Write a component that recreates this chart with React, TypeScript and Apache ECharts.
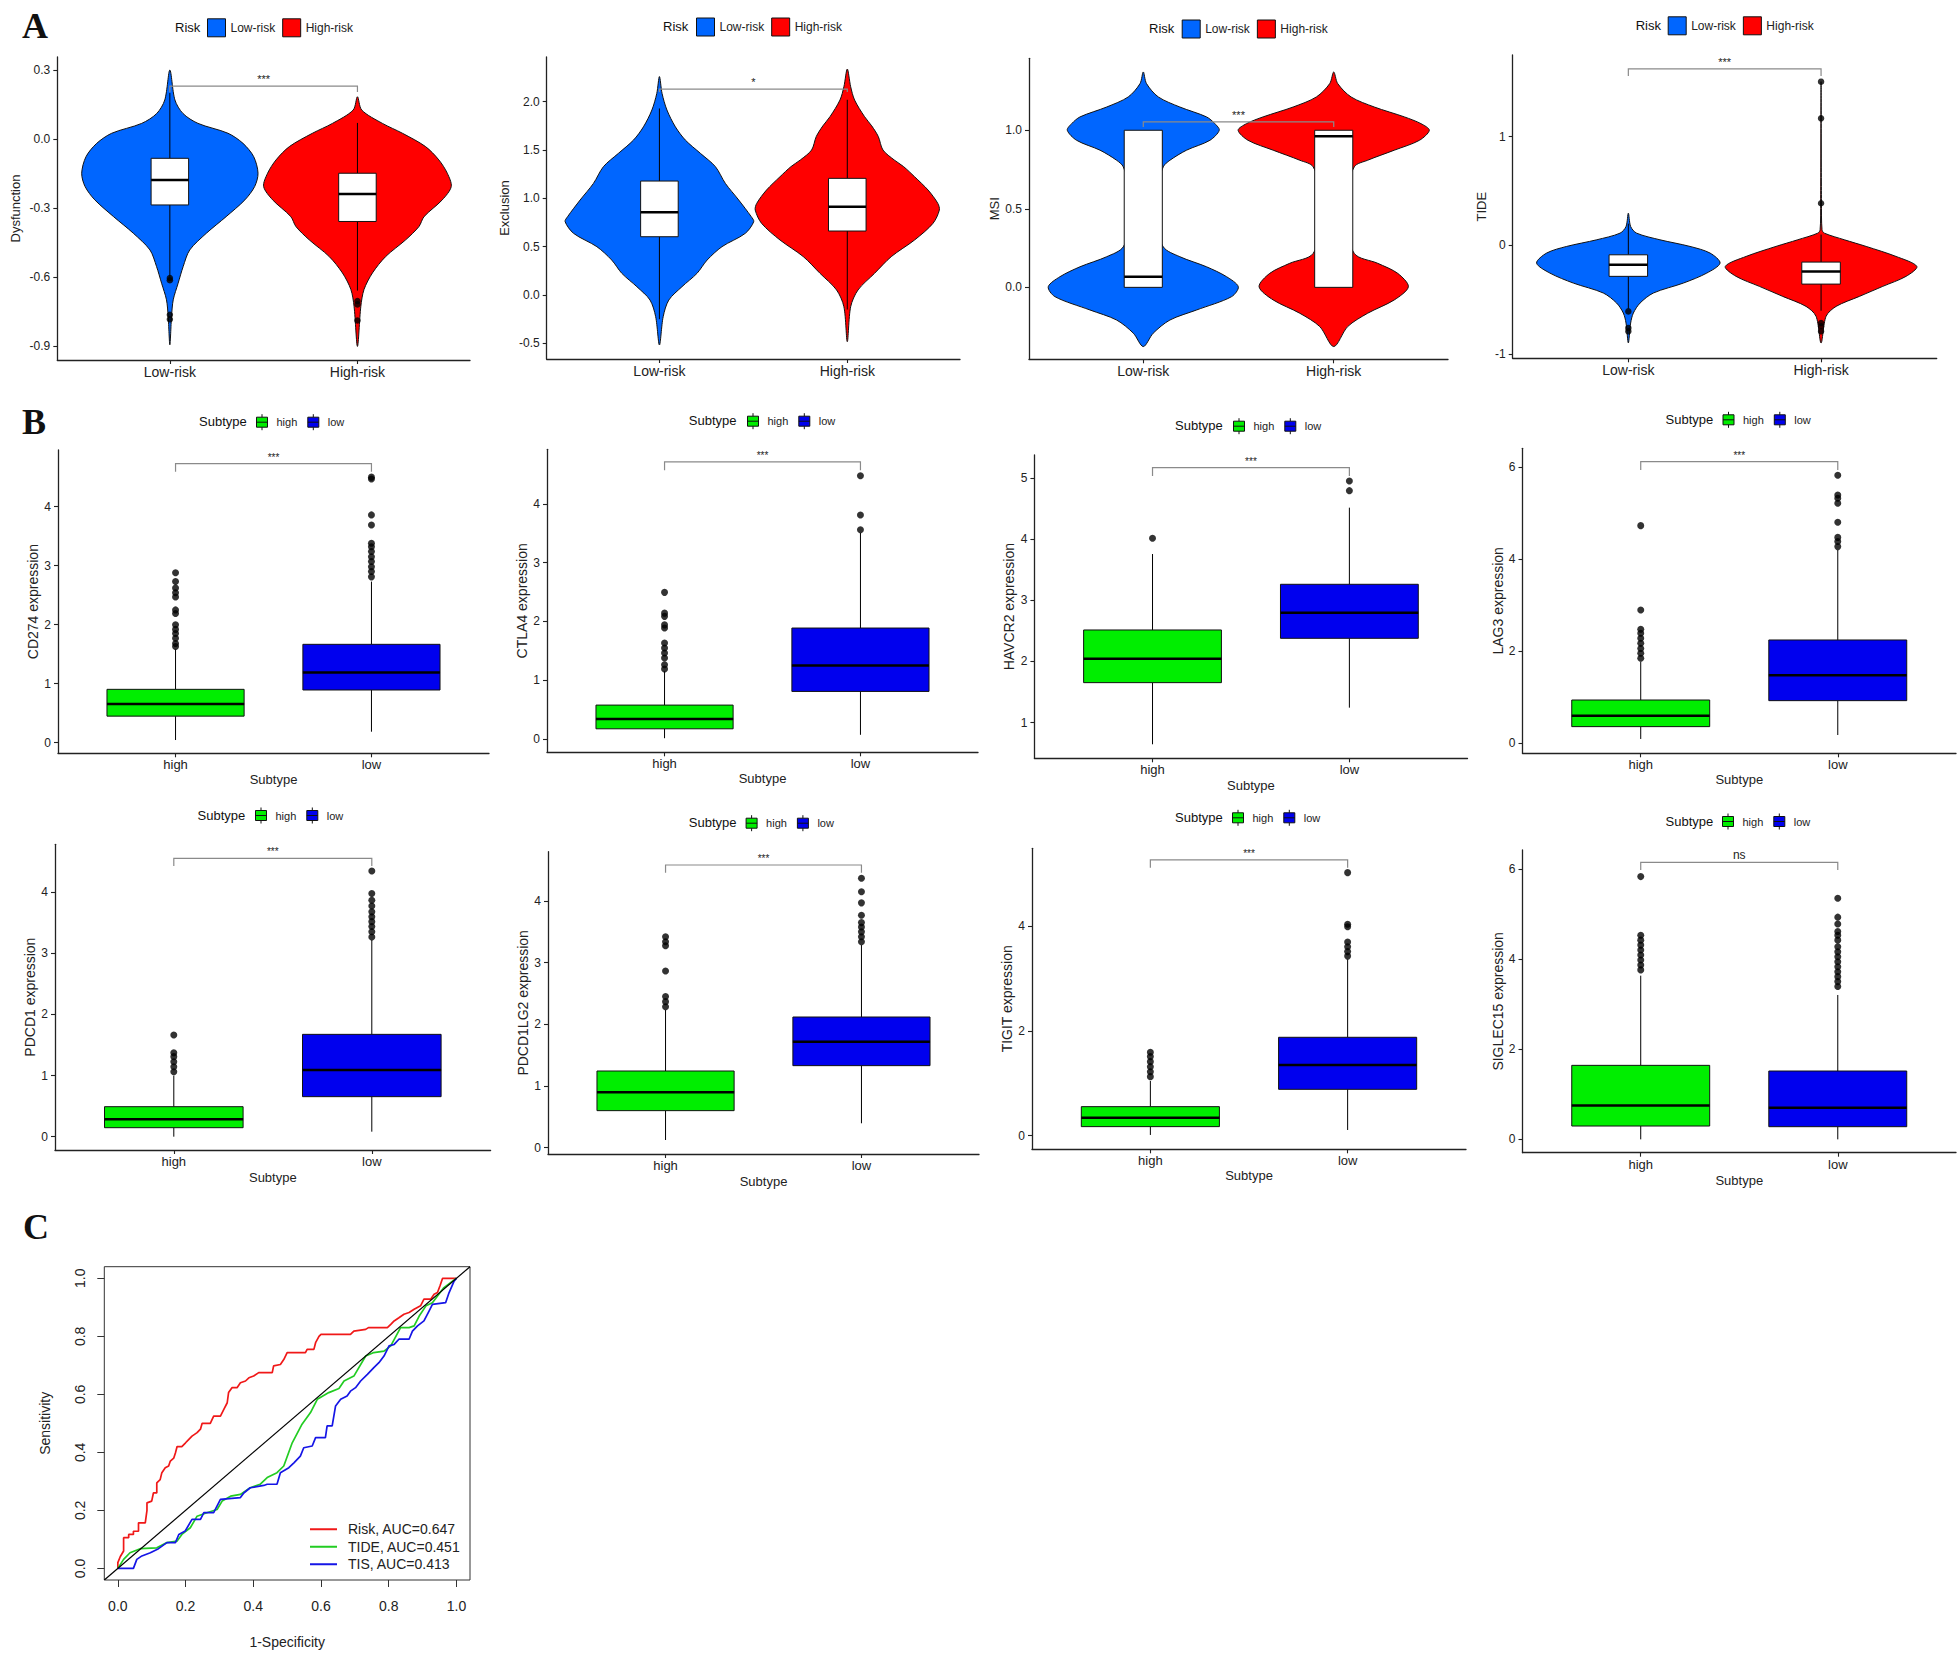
import React, { useEffect, useRef } from 'react';
import * as echarts from 'echarts';

const FONT = '"Liberation Sans", Arial, Helvetica, sans-serif';
const SERIF = '"Liberation Serif", "Times New Roman", serif';

// ---------------- Panel A : violin plots ----------------
const riskGroups = ['Low-risk', 'High-risk'];
const riskColors = ['#0066FF', '#FF0000'];

const aNames = ['Dysfunction', 'Exclusion', 'MSI', 'TIDE'];
const dysTicks = [-0.9, -0.6, -0.3, 0, 0.3];
const excTicks = [-0.5, 0, 0.5, 1, 1.5, 2];
const msiTicks = [0, 0.5, 1];
const tideTicks = [-1, 0, 1];

// violin profiles: [value, half width in category units]
const dysLowViolin = [[-0.896, 0], [-0.772, 0.009], [-0.7, 0.018], [-0.628, 0.044], [-0.555, 0.071], [-0.483, 0.106], [-0.41, 0.195], [-0.338, 0.3], [-0.265, 0.4], [-0.207, 0.452], [-0.149, 0.47], [-0.077, 0.447], [-0.019, 0.39], [0.025, 0.31], [0.068, 0.15], [0.111, 0.07], [0.17, 0.027], [0.3, 0]];
const dysHighViolin = [[-0.903, 0], [-0.729, 0.018], [-0.655, 0.035], [-0.583, 0.08], [-0.512, 0.15], [-0.439, 0.257], [-0.381, 0.328], [-0.338, 0.355], [-0.265, 0.452], [-0.207, 0.5], [-0.149, 0.479], [-0.091, 0.434], [-0.033, 0.363], [0.025, 0.24], [0.068, 0.133], [0.126, 0.023], [0.184, 0]];
const excLowViolin = [[-0.517, 0], [-0.224, 0.02], [-0.052, 0.05], [0.086, 0.12], [0.224, 0.2], [0.362, 0.254], [0.5, 0.333], [0.638, 0.457], [0.759, 0.502], [0.81, 0.489], [0.983, 0.422], [1.155, 0.351], [1.328, 0.298], [1.466, 0.218], [1.603, 0.138], [1.74, 0.085], [1.914, 0.04], [2.086, 0.014], [2.26, 0]];
const excHighViolin = [[-0.483, 0], [-0.121, 0.018], [0.052, 0.057], [0.224, 0.145], [0.397, 0.234], [0.569, 0.358], [0.741, 0.456], [0.879, 0.49], [0.948, 0.482], [1.086, 0.43], [1.224, 0.358], [1.328, 0.3], [1.397, 0.25], [1.5, 0.19], [1.64, 0.165], [1.75, 0.13], [1.845, 0.092], [2.017, 0.039], [2.155, 0.018], [2.338, 0]];
const msiLowViolin = [[-0.377, 0], [-0.292, 0.052], [-0.208, 0.14], [-0.144, 0.28], [-0.059, 0.464], [0.004, 0.499], [0.068, 0.437], [0.131, 0.332], [0.195, 0.192], [0.258, 0.105], [0.5, 0.04], [0.767, 0.105], [0.809, 0.14], [0.873, 0.227], [0.936, 0.35], [1.0, 0.399], [1.042, 0.376], [1.085, 0.332], [1.148, 0.192], [1.212, 0.079], [1.297, 0.017], [1.371, 0]];
const msiHighViolin = [[-0.377, 0], [-0.25, 0.073], [-0.165, 0.178], [-0.08, 0.318], [0.004, 0.392], [0.089, 0.336], [0.153, 0.231], [0.216, 0.108], [0.5, 0.04], [0.767, 0.108], [0.809, 0.178], [0.873, 0.318], [0.936, 0.45], [1.0, 0.502], [1.042, 0.458], [1.085, 0.371], [1.148, 0.213], [1.212, 0.091], [1.297, 0.021], [1.371, 0]];
const tideLowViolin = [[-0.896, 0], [-0.713, 0.012], [-0.621, 0.026], [-0.529, 0.061], [-0.437, 0.13], [-0.346, 0.285], [-0.254, 0.407], [-0.162, 0.476], [-0.07, 0.424], [-0.009, 0.32], [0.052, 0.164], [0.113, 0.043], [0.174, 0.012], [0.297, 0]];
const tideHighViolin = [[-0.896, 0], [-0.651, 0.026], [-0.56, 0.078], [-0.468, 0.199], [-0.376, 0.32], [-0.284, 0.441], [-0.193, 0.497], [-0.101, 0.389], [-0.009, 0.234], [0.052, 0.121], [0.113, 0.017], [0.144, 0.005], [0.4, 0.002], [1.505, 0]];

// boxes: [lower whisker, Q1, median, Q3, upper whisker] for Low-risk, High-risk
const dysBoxes = [[-0.6, -0.287, -0.178, -0.084, 0.2], [-0.66, -0.359, -0.239, -0.149, 0.07]];
const excBoxes = [[-0.25, 0.603, 0.855, 1.179, 1.93], [-0.15, 0.662, 0.914, 1.207, 2.02]];
const msiBoxes = [[0, 0, 0.068, 1, 1], [0, 0, 0.962, 1, 1]];
const tideBoxes = [[-0.58, -0.284, -0.177, -0.086, 0.2], [-0.6, -0.355, -0.239, -0.153, 0.1]];

// outliers: [group (1 = Low-risk, 2 = High-risk), value]
const dysOutliers = [[1, -0.605], [1, -0.615], [1, -0.765], [1, -0.785], [2, -0.705], [2, -0.72], [2, -0.79]];
const excOutliers: number[][] = [];
const msiOutliers: number[][] = [];
const tideOutliers = [[1, -0.606], [1, -0.758], [1, -0.789], [2, 0.388], [2, 1.168], [2, 1.505], [2, -0.713], [2, -0.743], [2, -0.789]];

// significance brackets: [from group, to group, bracket value, tip end value]
const dysSig = [1, 2, 0.23, 0.205];
const excSig = [1, 2, 2.13, 2.1];
const msiSig = [1, 2, 1.053, 1.02];
const tideSig = [1, 2, 1.622, 1.558];
const aSigLabels = ['***', '*', '***', '***'];

// ---------------- Panel B : box plots ----------------
const subtypeGroups = ['high', 'low'];
const subtypeColors = ['#00EE00', '#0000EE'];
const bGenes = ['CD274', 'CTLA4', 'HAVCR2', 'LAG3', 'PDCD1', 'PDCD1LG2', 'TIGIT', 'SIGLEC15'];

const cd274Boxes = [[0.045, 0.45, 0.655, 0.904, 1.58], [0.186, 0.893, 1.19, 1.667, 2.73]];
const ctla4Boxes = [[0.01, 0.17, 0.335, 0.574, 1.15], [0.068, 0.807, 1.25, 1.886, 3.506]];
const havcr2Boxes = [[0.646, 1.654, 2.046, 2.515, 3.757], [1.245, 2.379, 2.798, 3.262, 4.515]];
const lag3Boxes = [[0.094, 0.362, 0.6, 0.94, 1.773], [0.18, 0.926, 1.476, 2.243, 4.197]];
const pdcd1Boxes = [[0, 0.147, 0.284, 0.491, 1.0], [0.082, 0.655, 1.091, 1.675, 3.22]];
const pdcd1lg2Boxes = [[0.124, 0.6, 0.897, 1.243, 2.232], [0.395, 1.33, 1.719, 2.119, 3.286]];
const tigitBoxes = [[0.013, 0.172, 0.344, 0.554, 1.045], [0.108, 0.885, 1.35, 1.879, 3.369]];
const siglec15Boxes = [[0, 0.296, 0.754, 1.642, 3.632], [0, 0.281, 0.703, 1.516, 3.203]];

// outliers per gene: [high group values, low group values]
const cd274Out = [[1.63, 1.68, 1.77, 1.85, 1.92, 2.0, 2.19, 2.25, 2.47, 2.54, 2.62, 2.73, 2.88], [2.81, 2.9, 2.98, 3.07, 3.15, 3.24, 3.32, 3.38, 3.69, 3.86, 4.47, 4.5]];
const ctla4Out = [[1.19, 1.26, 1.375, 1.46, 1.545, 1.63, 1.886, 1.94, 2.085, 2.14, 2.494], [3.56, 3.81, 4.48]];
const havcr2Out = [[4.014], [4.793, 4.951]];
const lag3Out = [[1.845, 1.954, 2.06, 2.17, 2.28, 2.39, 2.475, 2.894, 4.725], [4.27, 4.38, 4.47, 4.8, 5.21, 5.32, 5.39, 5.82]];
const pdcd1Out = [[1.064, 1.146, 1.228, 1.31, 1.375, 1.664], [3.27, 3.356, 3.44, 3.52, 3.6, 3.68, 3.776, 3.87, 3.98, 4.35]];
const pdcd1lg2Out = [[2.286, 2.368, 2.45, 2.865, 3.276, 3.34, 3.42], [3.34, 3.42, 3.5, 3.58, 3.65, 3.77, 3.97, 4.15, 4.37]];
const tigitOut = [[1.127, 1.22, 1.318, 1.414, 1.51, 1.592], [3.43, 3.516, 3.61, 3.7, 3.99, 4.04, 5.025]];
const siglec15Out = [[3.76, 3.87, 3.98, 4.09, 4.2, 4.31, 4.42, 4.53, 5.83], [3.39, 3.5, 3.61, 3.72, 3.83, 3.94, 4.05, 4.16, 4.275, 4.42, 4.53, 4.61, 4.78, 4.93, 5.35]];

// bracket value, tip end value
const bSig = [[4.73, 4.59], [4.716, 4.574], [5.169, 5.033], [6.114, 5.933], [4.557, 4.43], [4.584, 4.46], [5.268, 5.12], [6.146, 5.976]];
const bSigLabels = ['***', '***', '***', '***', '***', '***', '***', 'ns'];

const ticks0to4 = [0, 1, 2, 3, 4];
const ticks1to5 = [1, 2, 3, 4, 5];
const ticksEven6 = [0, 2, 4, 6];
const ticksEven4 = [0, 2, 4];

// ---------------- Panel C : ROC curves ----------------
const rocNames = ['Risk, AUC=0.647', 'TIDE, AUC=0.451', 'TIS, AUC=0.413'];
const rocColors = ['#F01818', '#22CC22', '#1515E6'];
const rocTicks = [0, 0.2, 0.4, 0.6, 0.8, 1];
const rocRisk = [[0, 0], [0, 0.02], [0.007, 0.04], [0.017, 0.06], [0.017, 0.106], [0.032, 0.106], [0.032, 0.117], [0.046, 0.117], [0.046, 0.128], [0.061, 0.128], [0.061, 0.157], [0.081, 0.157], [0.086, 0.2], [0.086, 0.226], [0.1, 0.232], [0.105, 0.26], [0.115, 0.26], [0.115, 0.295], [0.125, 0.306], [0.13, 0.33], [0.14, 0.347], [0.15, 0.353], [0.155, 0.37], [0.165, 0.38], [0.17, 0.398], [0.175, 0.42], [0.189, 0.42], [0.2, 0.433], [0.209, 0.444], [0.219, 0.456], [0.234, 0.468], [0.244, 0.48], [0.249, 0.5], [0.273, 0.5], [0.283, 0.525], [0.303, 0.525], [0.313, 0.548], [0.323, 0.571], [0.327, 0.606], [0.337, 0.623], [0.352, 0.623], [0.362, 0.64], [0.377, 0.646], [0.387, 0.657], [0.401, 0.663], [0.416, 0.675], [0.456, 0.675], [0.46, 0.698], [0.48, 0.703], [0.49, 0.72], [0.5, 0.744], [0.554, 0.744], [0.559, 0.755], [0.579, 0.755], [0.584, 0.778], [0.594, 0.8], [0.6, 0.807], [0.687, 0.807], [0.697, 0.818], [0.732, 0.824], [0.74, 0.83], [0.796, 0.83], [0.806, 0.841], [0.816, 0.853], [0.83, 0.864], [0.845, 0.876], [0.86, 0.882], [0.875, 0.893], [0.894, 0.905], [0.904, 0.928], [0.924, 0.928], [0.934, 0.945], [0.944, 0.951], [0.952, 0.976], [0.959, 1], [1, 1]];
const rocTIDE = [[0, 0], [0.017, 0.031], [0.036, 0.054], [0.066, 0.068], [0.115, 0.071], [0.145, 0.089], [0.175, 0.094], [0.189, 0.117], [0.214, 0.14], [0.234, 0.18], [0.263, 0.192], [0.293, 0.203], [0.308, 0.232], [0.333, 0.249], [0.362, 0.255], [0.391, 0.278], [0.42, 0.29], [0.441, 0.313], [0.47, 0.33], [0.49, 0.353], [0.515, 0.433], [0.544, 0.497], [0.569, 0.537], [0.589, 0.583], [0.623, 0.606], [0.653, 0.62], [0.668, 0.646], [0.697, 0.663], [0.732, 0.732], [0.756, 0.744], [0.786, 0.749], [0.806, 0.767], [0.835, 0.83], [0.86, 0.83], [0.875, 0.836], [0.89, 0.87], [0.91, 0.905], [0.929, 0.916], [0.963, 0.968], [1, 1]];
const rocTIS = [[0, 0], [0.046, 0], [0.056, 0.031], [0.071, 0.043], [0.096, 0.054], [0.12, 0.068], [0.145, 0.089], [0.17, 0.089], [0.18, 0.117], [0.199, 0.129], [0.219, 0.169], [0.244, 0.169], [0.254, 0.192], [0.283, 0.192], [0.303, 0.238], [0.362, 0.244], [0.372, 0.26], [0.391, 0.278], [0.431, 0.286], [0.441, 0.29], [0.47, 0.29], [0.48, 0.33], [0.505, 0.347], [0.52, 0.364], [0.539, 0.387], [0.549, 0.416], [0.574, 0.422], [0.584, 0.451], [0.613, 0.451], [0.618, 0.491], [0.633, 0.491], [0.643, 0.56], [0.658, 0.583], [0.677, 0.594], [0.687, 0.611], [0.702, 0.623], [0.717, 0.646], [0.737, 0.669], [0.756, 0.692], [0.771, 0.709], [0.786, 0.732], [0.801, 0.767], [0.816, 0.772], [0.83, 0.79], [0.86, 0.79], [0.87, 0.818], [0.885, 0.836], [0.904, 0.853], [0.919, 0.887], [0.929, 0.91], [0.968, 0.916], [0.978, 0.95], [0.993, 0.99], [1, 1]];
const diagonal = [[-0.04, -0.04], [1.04, 1.04]];

// ---------------- layout (pixels) ----------------
const aLayout = [
  { l: 57.3, t: 57, r: 470, b: 360, y0: -0.962, y1: 0.357, nameGap: 35.5, legL: 207, legC: 27.3, titleX: 175 },
  { l: 546.7, t: 57, r: 960, b: 359, y0: -0.662, y1: 2.4625, nameGap: 36, legL: 696, legC: 26.5, titleX: 663 },
  { l: 1029, t: 58.3, r: 1448, b: 359.3, y0: -0.458, y1: 1.458, nameGap: 28.5, legL: 1181.7, legC: 28.5, titleX: 1149 },
  { l: 1512.7, t: 55, r: 1936.7, b: 358.3, y0: -1.037, y1: 1.75, nameGap: 24.5, legL: 1667.7, legC: 25.3, titleX: 1635.7 },
];
const bLayout = [
  { l: 58, t: 450, r: 489, b: 753.3, y0: -0.18, y1: 4.96, nameGap: 17, xNameGap: 20, legL: 256, legC: 421.7, titleX: 199 },
  { l: 547, t: 449.3, r: 978, b: 752.3, y0: -0.23, y1: 4.93, nameGap: 16.25, xNameGap: 20, legL: 747, legC: 420.7, titleX: 688.75 },
  { l: 1034.4, t: 455, r: 1467.5, b: 758.3, y0: 0.417, y1: 5.376, nameGap: 18.5, xNameGap: 21, legL: 1233, legC: 425.7, titleX: 1175 },
  { l: 1522.5, t: 448.3, r: 1956, b: 753.3, y0: -0.217, y1: 6.404, nameGap: 16.75, xNameGap: 20, legL: 1722.5, legC: 419.3, titleX: 1665.6 },
  { l: 55, t: 844.3, r: 490.6, b: 1150, y0: -0.218, y1: 4.786, nameGap: 18, xNameGap: 21, legL: 255, legC: 815, titleX: 197.5 },
  { l: 548, t: 851.7, r: 979, b: 1154, y0: -0.103, y1: 4.8, nameGap: 17.25, xNameGap: 20.5, legL: 745.6, legC: 822.7, titleX: 688.75 },
  { l: 1032, t: 848.3, r: 1466, b: 1149.3, y0: -0.261, y1: 5.49, nameGap: 17, xNameGap: 20, legL: 1232, legC: 817.3, titleX: 1175 },
  { l: 1522.5, t: 850, r: 1956, b: 1152.7, y0: -0.296, y1: 6.42, nameGap: 16.75, xNameGap: 21, legL: 1722, legC: 821, titleX: 1665.6 },
];
const cLayout = { l: 104.3, t: 1266.7, r: 470, b: 1580, v0: -0.04, v1: 1.04 };

const AXIS_COLOR = '#222';
const TEXT_COLOR = '#222';
const boxGlyph = 'path://M6.5,0L6.5,3M1,3L12,3L12,13L1,13ZM1,8L12,8M6.5,13L6.5,16';

function buildOption() {
  const grid: any[] = [];
  const xAxis: any[] = [];
  const yAxis: any[] = [];
  const series: any[] = [];
  const legend: any[] = [];
  const graphic: any[] = [];

  const addGrid = (L: any) => {
    grid.push({ left: L.l, top: L.t, width: L.r - L.l, height: L.b - L.t, containLabel: false });
    return grid.length - 1;
  };

  const catX = (gi: number, cats: string[], fontSize: number, name?: string, nameGap?: number, nameSize?: number) => ({
    type: 'value', gridIndex: gi, min: 0.4, max: 2.6,
    axisLine: { show: true, onZero: false, lineStyle: { color: AXIS_COLOR, width: 1.3 } },
    axisTick: { show: true, customValues: [1, 2], length: 4, lineStyle: { color: AXIS_COLOR, width: 1.1 } },
    axisLabel: { customValues: [1, 2], formatter: (v: number) => cats[Math.round(v) - 1] || '', fontSize, color: TEXT_COLOR, margin: 5, fontFamily: FONT },
    splitLine: { show: false },
    name: name || '', nameLocation: 'middle', nameGap: nameGap || 0,
    nameTextStyle: { fontSize: nameSize || 13, color: TEXT_COLOR, fontFamily: FONT },
  });

  const valY = (gi: number, L: any, ticks: number[], dec: number, name: string, fontSize: number, nameSize: number, margin: number) => ({
    type: 'value', gridIndex: gi, min: L.y0, max: L.y1,
    axisLine: { show: true, onZero: false, lineStyle: { color: AXIS_COLOR, width: 1.3 } },
    axisTick: { show: true, customValues: ticks, length: 4, lineStyle: { color: AXIS_COLOR, width: 1.1 } },
    axisLabel: { customValues: ticks, formatter: (v: number) => v.toFixed(dec), fontSize, color: TEXT_COLOR, margin, fontFamily: FONT },
    splitLine: { show: false },
    name, nameLocation: 'middle', nameGap: L.nameGap,
    nameTextStyle: { fontSize: nameSize, color: TEXT_COLOR, fontFamily: FONT },
  });

  const violinSeries = (gi: number, name: string, cat: number, prof: number[][], color: string) => ({
    type: 'custom', name, xAxisIndex: gi, yAxisIndex: gi, silent: true, z: 2,
    itemStyle: { color },
    data: [[cat]],
    renderItem: (params: any, api: any) => {
      const c = api.value(0);
      const right = prof.map(([v, w]) => api.coord([c + w, v]));
      const left: number[][] = [];
      for (let i = prof.length - 1; i >= 0; i--) {
        if (prof[i][1] > 0) left.push(api.coord([c - prof[i][1], prof[i][0]]));
      }
      return {
        type: 'polygon',
        shape: { points: right.concat(left), smooth: 0.3 },
        style: { fill: color, stroke: '#111', lineWidth: 1 },
      };
    },
  });

  const boxSeries = (gi: number, name: string, rows: number[][], halfW: number, fill: string, medW: number) => ({
    type: 'custom', name, xAxisIndex: gi, yAxisIndex: gi, silent: true, z: 3,
    itemStyle: { color: fill },
    data: rows,
    renderItem: (params: any, api: any) => {
      const x = api.value(0), lw = api.value(1), q1 = api.value(2), md = api.value(3), q3 = api.value(4), uw = api.value(5);
      const a = api.coord([x - halfW, q3]);
      const b = api.coord([x + halfW, q1]);
      const top = api.coord([x, uw]);
      const qt = api.coord([x, q3]);
      const qb = api.coord([x, q1]);
      const bot = api.coord([x, lw]);
      const mL = api.coord([x - halfW, md]);
      const mR = api.coord([x + halfW, md]);
      const ls = { stroke: '#000', lineWidth: 1 };
      return {
        type: 'group',
        children: [
          { type: 'line', shape: { x1: top[0], y1: top[1], x2: qt[0], y2: qt[1] }, style: ls },
          { type: 'line', shape: { x1: qb[0], y1: qb[1], x2: bot[0], y2: bot[1] }, style: ls },
          { type: 'rect', shape: { x: a[0], y: a[1], width: b[0] - a[0], height: b[1] - a[1] }, style: { fill, stroke: '#111', lineWidth: 1 } },
          { type: 'line', shape: { x1: mL[0], y1: mL[1], x2: mR[0], y2: mR[1] }, style: { stroke: '#000', lineWidth: medW } },
        ],
      };
    },
  });

  const outlierSeries = (gi: number, pts: number[][], size: number) => ({
    type: 'scatter', name: 'outliers', xAxisIndex: gi, yAxisIndex: gi, silent: true, z: 4,
    symbol: 'circle', symbolSize: size, itemStyle: { color: '#000' }, data: pts,
  });

  const sigSeries = (gi: number, row: number[], label: string, fontSize: number) => ({
    type: 'custom', name: 'sig', xAxisIndex: gi, yAxisIndex: gi, silent: true, z: 5,
    data: [row],
    renderItem: (params: any, api: any) => {
      const x1 = api.value(0), x2 = api.value(1), y = api.value(2), yt = api.value(3);
      const p1 = api.coord([x1, yt]);
      const p2 = api.coord([x1, y]);
      const p3 = api.coord([x2, y]);
      const p4 = api.coord([x2, yt]);
      return {
        type: 'group',
        children: [
          { type: 'polyline', shape: { points: [p1, p2, p3, p4] }, style: { stroke: '#8a8a8a', lineWidth: 1.2, fill: null } },
          {
            type: 'text',
            style: {
              text: label, x: (p2[0] + p3[0]) / 2, y: p2[1] - 1.5,
              align: 'center', verticalAlign: 'bottom', textAlign: 'center', textVerticalAlign: 'bottom',
              fontSize, fontFamily: FONT, fill: TEXT_COLOR,
            },
          },
        ],
      };
    },
  });

  const addText = (text: string, x: number, y: number, fontSize: number, family: string, weight: string) => {
    graphic.push({
      type: 'text', x, y, silent: true,
      style: {
        text, fontSize, fontFamily: family, fontWeight: weight, fill: '#111',
        align: 'left', verticalAlign: 'middle', textAlign: 'left', textVerticalAlign: 'middle',
      },
    });
  };

  // ---------- Panel A ----------
  const aViolins = [[dysLowViolin, dysHighViolin], [excLowViolin, excHighViolin], [msiLowViolin, msiHighViolin], [tideLowViolin, tideHighViolin]];
  const aBoxes = [dysBoxes, excBoxes, msiBoxes, tideBoxes];
  const aOutliers = [dysOutliers, excOutliers, msiOutliers, tideOutliers];
  const aSig = [dysSig, excSig, msiSig, tideSig];
  const aTicks = [dysTicks, excTicks, msiTicks, tideTicks];
  const aDec = [1, 1, 1, 0];

  aLayout.forEach((L, i) => {
    const gi = addGrid(L);
    xAxis.push(catX(gi, riskGroups, 14));
    yAxis.push(valY(gi, L, aTicks[i], aDec[i], aNames[i], 12, 13, 7));
    aViolins[i].forEach((prof, k) => series.push(violinSeries(gi, riskGroups[k], k + 1, prof, riskColors[k])));
    series.push(boxSeries(gi, 'box', aBoxes[i].map((b, k) => [k + 1, ...b]), 0.1, '#ffffff', 2.5));
    if (aOutliers[i].length) series.push(outlierSeries(gi, aOutliers[i], 6.5));
    series.push(sigSeries(gi, aSig[i], aSigLabels[i], 11));
    legend.push({
      left: L.legL, top: L.legC - 9, orient: 'horizontal', padding: 0,
      itemWidth: 18, itemHeight: 18, itemGap: 7, selectedMode: false,
      textStyle: { fontSize: 12, color: TEXT_COLOR, fontFamily: FONT },
      data: riskGroups.map((n, k) => ({ name: n, icon: 'rect', itemStyle: { color: riskColors[k], borderColor: '#111', borderWidth: 1 } })),
    });
    addText('Risk', L.titleX, L.legC, 13, FONT, 'normal');
  });

  // ---------- Panel B ----------
  const bBoxes = [cd274Boxes, ctla4Boxes, havcr2Boxes, lag3Boxes, pdcd1Boxes, pdcd1lg2Boxes, tigitBoxes, siglec15Boxes];
  const bOut = [cd274Out, ctla4Out, havcr2Out, lag3Out, pdcd1Out, pdcd1lg2Out, tigitOut, siglec15Out];
  const bTicks = [ticks0to4, ticks0to4, ticks1to5, ticksEven6, ticks0to4, ticks0to4, ticksEven4, ticksEven6];

  bLayout.forEach((L, i) => {
    const gi = addGrid(L);
    xAxis.push(catX(gi, subtypeGroups, 13, 'Subtype', L.xNameGap, 13));
    yAxis.push(valY(gi, L, bTicks[i], 0, bGenes[i] + ' expression', 12, 14, 7));
    bBoxes[i].forEach((b, k) => series.push(boxSeries(gi, subtypeGroups[k], [[k + 1, ...b]], 0.35, subtypeColors[k], 2.5)));
    const pts: number[][] = [];
    bOut[i].forEach((vals, k) => vals.forEach((v) => pts.push([k + 1, v])));
    series.push(outlierSeries(gi, pts, 7));
    series.push(sigSeries(gi, [1, 2, bSig[i][0], bSig[i][1]], bSigLabels[i], bSigLabels[i] === 'ns' ? 12 : 10));
    legend.push({
      left: L.legL, top: L.legC - 8, orient: 'horizontal', padding: 0,
      itemWidth: 13, itemHeight: 16, itemGap: 10, selectedMode: false,
      textStyle: { fontSize: 11, color: TEXT_COLOR, fontFamily: FONT, padding: [0, 0, 0, 3] },
      data: subtypeGroups.map((n, k) => ({ name: n, icon: boxGlyph, itemStyle: { color: subtypeColors[k], borderColor: '#111', borderWidth: 1 } })),
    });
    addText('Subtype', L.titleX, L.legC, 13, FONT, 'normal');
  });

  // ---------- Panel C ----------
  const C = cLayout;
  const gc = grid.length;
  grid.push({ left: C.l, top: C.t, width: C.r - C.l, height: C.b - C.t, show: true, borderColor: '#333', borderWidth: 1, backgroundColor: 'transparent' });
  xAxis.push({
    type: 'value', gridIndex: gc, min: C.v0, max: C.v1,
    axisLine: { show: false, onZero: false },
    axisTick: { show: true, customValues: rocTicks, length: 7, lineStyle: { color: '#333' } },
    axisLabel: { customValues: rocTicks, formatter: (v: number) => v.toFixed(1), fontSize: 14, color: TEXT_COLOR, margin: 19, fontFamily: FONT },
    splitLine: { show: false },
    name: '1-Specificity', nameLocation: 'middle', nameGap: 55,
    nameTextStyle: { fontSize: 14, color: TEXT_COLOR, fontFamily: FONT },
  });
  yAxis.push({
    type: 'value', gridIndex: gc, min: C.v0, max: C.v1,
    axisLine: { show: false, onZero: false },
    axisTick: { show: true, customValues: rocTicks, length: 7, lineStyle: { color: '#333' } },
    axisLabel: { customValues: rocTicks, formatter: (v: number) => v.toFixed(1), fontSize: 14, color: TEXT_COLOR, margin: 17, rotate: 90, fontFamily: FONT },
    splitLine: { show: false },
    name: 'Sensitivity', nameLocation: 'middle', nameGap: 52,
    nameTextStyle: { fontSize: 14, color: TEXT_COLOR, fontFamily: FONT },
  });
  series.push({
    type: 'line', name: 'diagonal', xAxisIndex: gc, yAxisIndex: gc, data: diagonal, symbol: 'none', silent: true,
    lineStyle: { color: '#000', width: 1.2 }, z: 3,
  });
  [rocRisk, rocTIDE, rocTIS].forEach((d, k) => {
    series.push({
      type: 'line', name: rocNames[k], xAxisIndex: gc, yAxisIndex: gc, data: d, symbol: 'none', showSymbol: false, silent: true,
      lineStyle: { color: rocColors[k], width: 1.7 }, itemStyle: { color: rocColors[k] }, z: 2,
    });
  });
  legend.push({
    left: 310, top: 1522, orient: 'vertical', padding: 0, itemWidth: 27, itemHeight: 2, itemGap: 3, selectedMode: false,
    textStyle: { fontSize: 14, color: TEXT_COLOR, fontFamily: FONT, lineHeight: 14.5, padding: [0, 0, 0, 6] },
    data: rocNames.map((n, k) => ({ name: n, icon: 'rect', itemStyle: { color: rocColors[k] } })),
  });

  // panel letters
  addText('A', 22, 25.5, 36, SERIF, 'bold');
  addText('B', 22, 421.5, 36, SERIF, 'bold');
  addText('C', 23, 1226.5, 36, SERIF, 'bold');

  return {
    animation: false,
    backgroundColor: '#ffffff',
    textStyle: { fontFamily: FONT },
    grid, xAxis, yAxis, series, legend,
    graphic: { elements: graphic },
  };
}

export default function App() {
  const ref = useRef<HTMLDivElement>(null);
  useEffect(() => {
    document.body.style.margin = '0';
    const chart = echarts.init(ref.current as HTMLDivElement, undefined, { renderer: 'svg', width: 1960, height: 1663 });
    chart.setOption(buildOption() as any);
    return () => chart.dispose();
  }, []);
  return <div ref={ref} style={{ width: 1960, height: 1663, background: '#fff', position: 'absolute', left: 0, top: 0 }} />;
}
